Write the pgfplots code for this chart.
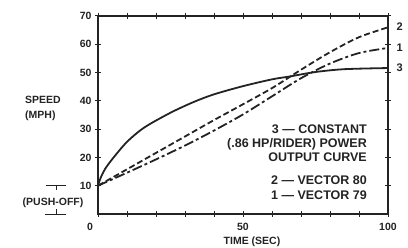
\documentclass[border=0pt]{standalone}
\usepackage{pgfplots}
\pgfplotsset{compat=1.18}
\usepackage{fontspec}
\setmainfont{Liberation Sans}
\definecolor{ink}{RGB}{35,35,35}
\begin{document}
\begin{tikzpicture}[x=1pt,y=1pt]
\path[use as bounding box] (0,0) rectangle (408,248);
\begin{axis}[
  at={(98pt,34pt)}, anchor=south west,
  scale only axis, width=290pt, height=198pt,
  xmin=0, xmax=100, ymin=0, ymax=70,
  xtick={0,10,...,100},
  xticklabels={,,,,,50,,,,,100},
  ytick={10,20,...,70},
  tick align=center, major tick length=6pt,
  axis line style={line width=1.4pt, ink},
  every tick/.style={line width=1pt, ink},
  tick label style={font=\fontsize{10.5}{12}\selectfont\bfseries, text=ink},
  /pgf/number format/assume math mode=true,
  xticklabel style={yshift=-3pt},
  yticklabel style={xshift=0pt},
  clip=false,
]
\addplot[ink, line width=1.8pt, smooth] coordinates {
(0,10)(1,13)(2.5,16)(5,19.5)(10,25.5)(16,30.6)(25,35.8)(33,39.6)(40,42.3)(50,45.2)(60,47.6)(66,48.6)(75,50.2)(85,51.2)(100,51.6)};
\addplot[ink, line width=1.8pt, smooth, dash pattern=on 6pt off 3pt] coordinates {
(0,10)(10,15.8)(20,21.6)(30,27.4)(40,33.2)(50,38.8)(60,44.5)(70,51)(80,57.2)(90,62.5)(100,66)};
\addplot[ink, line width=1.8pt, smooth, dash pattern=on 10pt off 3pt on 3pt off 3pt] coordinates {
(0,10)(10,14.6)(20,19.3)(30,24.2)(40,29.5)(50,35.2)(60,41.6)(70,48)(80,53.2)(90,56.9)(100,58.7)};
\node[font=\fontsize{11}{12}\selectfont\bfseries, text=ink] at (axis cs:104,66.2) {2};
\node[font=\fontsize{11}{12}\selectfont\bfseries, text=ink] at (axis cs:104,58.7) {1};
\node[font=\fontsize{11}{12}\selectfont\bfseries, text=ink] at (axis cs:104,51.6) {3};
\end{axis}
\begin{scope}[every node/.style={font=\fontsize{12.5}{14}\selectfont\bfseries, text=ink, inner sep=0pt}]
\node[anchor=base east] at (367,114) {3 --- CONSTANT};
\node[anchor=base east] at (367,100.5) {(.86 HP/RIDER) POWER};
\node[anchor=base east] at (367,86.5) {OUTPUT CURVE};
\node[anchor=base east] at (367,63) {2 --- VECTOR 80};
\node[anchor=base east] at (367,48.7) {1 --- VECTOR 79};
\end{scope}
\begin{scope}[every node/.style={font=\fontsize{10.5}{12}\selectfont\bfseries, text=ink, inner sep=0pt}]
\node[anchor=base west] at (25,144) {SPEED};
\node[anchor=base west] at (25,129) {(MPH)};
\node[anchor=base] at (53,42.5) {(PUSH-OFF)};
\node at (90,21) {0};
\node[anchor=base] at (252,3) {TIME (SEC)};
\end{scope}
\draw[ink, line width=0.9pt] (46,63) -- (66,63) (56,63) -- (56,58);
\draw[ink, line width=0.9pt] (45,34) -- (66,34) (56,34) -- (56,39);
\end{tikzpicture}
\end{document}
